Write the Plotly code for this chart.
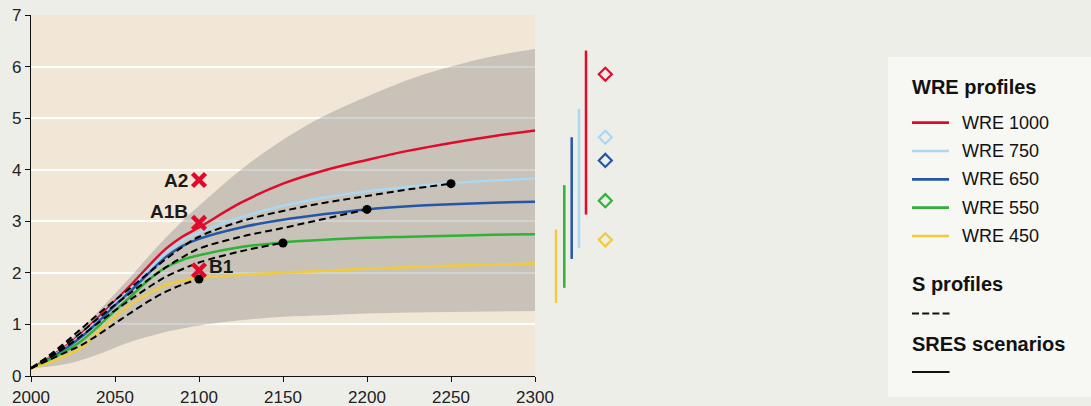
import plotly.graph_objects as go

W, H = 1091, 406

# ---------------- data ----------------
years = [2000, 2010, 2020, 2030, 2040, 2050, 2060, 2070, 2080, 2090, 2100,
         2125, 2150, 2175, 2200, 2225, 2250, 2275, 2300]

wre_names = ["WRE 1000", "WRE 750", "WRE 650", "WRE 550", "WRE 450"]
wre_colors = ["#e3092b", "#acd7f2", "#2458a6", "#2fb236", "#f0cc3c"]
wre_1000 = [0.15, 0.34, 0.56, 0.82, 1.13, 1.45, 1.78, 2.13, 2.46, 2.70, 2.88,
            3.36, 3.73, 3.99, 4.19, 4.37, 4.52, 4.65, 4.76]
wre_750 = [0.15, 0.33, 0.54, 0.79, 1.09, 1.41, 1.72, 2.06, 2.38, 2.62, 2.78,
           3.08, 3.30, 3.46, 3.58, 3.67, 3.74, 3.79, 3.83]
wre_650 = [0.15, 0.32, 0.52, 0.76, 1.05, 1.37, 1.67, 1.99, 2.30, 2.52, 2.66,
           2.88, 3.03, 3.14, 3.23, 3.29, 3.33, 3.36, 3.38]
wre_550 = [0.15, 0.30, 0.47, 0.68, 0.96, 1.27, 1.56, 1.86, 2.10, 2.25, 2.34,
           2.50, 2.59, 2.64, 2.68, 2.70, 2.72, 2.74, 2.75]
wre_450 = [0.15, 0.25, 0.38, 0.55, 0.85, 1.15, 1.40, 1.60, 1.76, 1.85, 1.90,
           1.96, 2.00, 2.04, 2.08, 2.11, 2.14, 2.16, 2.18]
wre_values = [wre_1000, wre_750, wre_650, wre_550, wre_450]

# S profiles (dashed), each ending where it joins its WRE curve
s750_years = [2000, 2010, 2020, 2030, 2040, 2050, 2060, 2070, 2080, 2090, 2100,
              2125, 2150, 2175, 2200, 2225, 2250]
s750 = [0.15, 0.38, 0.64, 0.92, 1.20, 1.47, 1.73, 2.00, 2.26, 2.50, 2.70,
        3.00, 3.20, 3.36, 3.49, 3.62, 3.73]
s650_years = [2000, 2010, 2020, 2030, 2040, 2050, 2060, 2070, 2080, 2090, 2100,
              2125, 2150, 2175, 2200]
s650 = [0.15, 0.36, 0.60, 0.85, 1.12, 1.38, 1.63, 1.87, 2.10, 2.30, 2.47,
        2.70, 2.87, 3.05, 3.23]
s550_years = [2000, 2010, 2020, 2030, 2040, 2050, 2060, 2070, 2080, 2090, 2100,
              2125, 2150]
s550 = [0.15, 0.33, 0.55, 0.78, 1.03, 1.27, 1.50, 1.72, 1.92, 2.07, 2.20,
        2.42, 2.58]
s450_years = [2000, 2010, 2020, 2030, 2040, 2050, 2060, 2070, 2080, 2090, 2100]
s450 = [0.15, 0.30, 0.45, 0.60, 0.80, 1.02, 1.24, 1.45, 1.63, 1.77, 1.88]
s_years = [s750_years, s650_years, s550_years, s450_years]
s_values = [s750, s650, s550, s450]

# junction dots
dot_years = [2100, 2150, 2200, 2250]
dot_values = [1.88, 2.58, 3.23, 3.73]

# grey uncertainty band
band_years = [2000, 2015, 2025, 2040, 2050, 2060, 2075, 2090, 2100, 2125, 2150,
              2175, 2200, 2225, 2250, 2275, 2300]
band_upper = [0.15, 0.45, 0.75, 1.25, 1.60, 1.95, 2.50, 3.00, 3.30, 4.00, 4.58,
              5.05, 5.42, 5.75, 6.00, 6.20, 6.34]
band_lower = [0.15, 0.20, 0.26, 0.42, 0.55, 0.67, 0.81, 0.92, 0.98, 1.08, 1.15,
              1.18, 1.21, 1.23, 1.24, 1.25, 1.26]

# SRES markers in 2100
sres_names = ["A2", "A1B", "B1"]
sres_values = [3.80, 2.97, 2.05]

# ranges (bars) and best estimates (diamonds) at equilibrium
range_low = [3.13, 2.48, 2.27, 1.71, 1.42]
range_high = [6.31, 5.18, 4.63, 3.70, 2.84]
best_est = [5.85, 4.63, 4.18, 3.40, 2.64]

xticks = [2000, 2050, 2100, 2150, 2200, 2250, 2300]
yticks = [0, 1, 2, 3, 4, 5, 6, 7]

# ---------------- layout helpers ----------------
PAGE_BG = "#eeeee9"
PLOT_BG = "#f2e7d7"
FONT = "Liberation Sans, Arial, sans-serif"


def px(x):
    return x / W


def py(y):
    return 1 - y / H


X0, X1 = 31, 535      # plot area in pixels
Y0, Y1 = 15, 376

fig = go.Figure()

# band
fig.add_trace(go.Scatter(x=band_years, y=band_lower, mode="lines",
                         line=dict(width=0, shape="spline"), hoverinfo="skip",
                         showlegend=False))
fig.add_trace(go.Scatter(x=band_years, y=band_upper, mode="lines",
                         line=dict(width=0, shape="spline"), fill="tonexty",
                         fillcolor="rgba(128,131,130,0.36)", hoverinfo="skip",
                         showlegend=False))

for name, col, vals in zip(wre_names, wre_colors, wre_values):
    fig.add_trace(go.Scatter(x=years, y=vals, mode="lines", name=name,
                             line=dict(color=col, width=2.5, shape="spline",
                                       smoothing=1.0),
                             showlegend=False))

for yrs, vals in zip(s_years, s_values):
    fig.add_trace(go.Scatter(x=yrs, y=vals, mode="lines",
                             line=dict(color="black", width=2, dash="7px,4px",
                                       shape="spline", smoothing=1.0),
                             showlegend=False))

fig.add_trace(go.Scatter(x=dot_years, y=dot_values, mode="markers",
                         marker=dict(color="black", size=9), showlegend=False))

fig.add_trace(go.Scatter(x=[2100] * len(sres_values), y=sres_values, mode="markers",
                         marker=dict(symbol="x-thin", size=13, color="#e3092b",
                                     line=dict(color="#e3092b", width=4.5)),
                         showlegend=False))

# bars + diamonds in side axis
bar_pos = [51, 44, 36.7, 29.3, 21]
for i, col in enumerate(wre_colors):
    fig.add_trace(go.Scatter(x=[bar_pos[i], bar_pos[i]], y=[range_low[i], range_high[i]],
                             mode="lines", line=dict(color=col, width=2.5),
                             xaxis="x2", yaxis="y2", showlegend=False))
fig.add_trace(go.Scatter(x=[70.3] * len(best_est), y=best_est, mode="markers",
                         marker=dict(symbol="diamond-open", size=10, color=wre_colors,
                                     line=dict(width=2.2, color=wre_colors)),
                         xaxis="x2", yaxis="y2", showlegend=False))

shapes = [
    dict(type="rect", xref="x domain", yref="y domain", x0=0, x1=1, y0=0, y1=1,
         fillcolor=PLOT_BG, line=dict(width=0), layer="below"),
    # legend box
    dict(type="rect", xref="paper", yref="paper", x0=px(888), x1=px(1095),
         y0=py(397), y1=py(57), fillcolor="#f7f7f3", line=dict(width=0), layer="below"),
]
annotations = []

annotations.append(dict(xref="paper", yref="paper", x=px(910), y=py(87),
                        text="<b>WRE profiles</b>", showarrow=False, xanchor="left",
                        yanchor="middle", font=dict(size=20, color="#111", family=FONT)))
leg_y = [122.7, 151, 179.3, 207.7, 236]
for name, col, yy in zip(wre_names, wre_colors, leg_y):
    shapes.append(dict(type="line", xref="paper", yref="paper", x0=px(912), x1=px(949),
                       y0=py(yy), y1=py(yy), line=dict(color=col, width=2.7)))
    annotations.append(dict(xref="paper", yref="paper", x=px(960), y=py(yy), text=name,
                            showarrow=False, xanchor="left", yanchor="middle",
                            font=dict(size=18, color="#111", family=FONT)))
annotations.append(dict(xref="paper", yref="paper", x=px(910), y=py(283.5),
                        text="<b>S profiles</b>", showarrow=False, xanchor="left",
                        yanchor="middle", font=dict(size=20, color="#111", family=FONT)))
shapes.append(dict(type="line", xref="paper", yref="paper", x0=px(912), x1=px(949.5),
                   y0=py(313.5), y1=py(313.5),
                   line=dict(color="#111", width=2, dash="7px,3.2px")))
annotations.append(dict(xref="paper", yref="paper", x=px(910), y=py(344),
                        text="<b>SRES scenarios</b>", showarrow=False, xanchor="left",
                        yanchor="middle", font=dict(size=20, color="#111", family=FONT)))
shapes.append(dict(type="line", xref="paper", yref="paper", x0=px(912), x1=px(949.5),
                   y0=py(372), y1=py(372), line=dict(color="#111", width=2)))

# SRES labels
label_cfg = [dict(xanchor="right", xshift=-9, yshift=0),
             dict(xanchor="right", xshift=-9, yshift=11),
             dict(xanchor="left", xshift=8, yshift=4)]
for name, val, cfg in zip(sres_names, sres_values, label_cfg):
    annotations.append(dict(x=2100, y=val, xref="x", yref="y", text=f"<b>{name}</b>",
                            showarrow=False, yanchor="middle",
                            font=dict(size=19, color="#1a1a1a", family=FONT), **cfg))

fig.update_layout(
    width=W, height=H,
    margin=dict(l=0, r=0, t=0, b=0, autoexpand=False),
    paper_bgcolor=PAGE_BG,
    plot_bgcolor="rgba(0,0,0,0)",
    font=dict(family=FONT, color="#222"),
    showlegend=False,
    shapes=shapes,
    annotations=annotations,
    xaxis=dict(domain=[X0 / W, X1 / W], range=[2000, 2300], tickvals=xticks,
               ticks="outside", ticklen=5, tickwidth=1.3, tickcolor="#111",
               showline=True, linecolor="#111", linewidth=1.3, showgrid=False,
               zeroline=False, tickfont=dict(size=17, color="#222"), anchor="y",
               automargin=False, fixedrange=True),
    yaxis=dict(domain=[1 - Y1 / H, 1 - Y0 / H], range=[0, 7], tickvals=yticks,
               ticks="outside", ticklen=5, tickwidth=1.3, tickcolor="#111",
               showline=True, linecolor="#111", linewidth=1.3, showgrid=True,
               gridcolor="white", gridwidth=2, zeroline=False,
               tickfont=dict(size=17, color="#222"), anchor="x",
               automargin=False, fixedrange=True),
    xaxis2=dict(domain=[X1 / W, (X1 + 115) / W], range=[0, 115],
                visible=False, anchor="y2", automargin=False, fixedrange=True),
    yaxis2=dict(domain=[1 - Y1 / H, 1 - Y0 / H], range=[0, 7], visible=False,
                anchor="x2", showgrid=False, automargin=False, fixedrange=True),
)

fig.write_html("out.html", config={"displayModeBar": False},
               post_script="document.body.style.margin='0';document.body.style.overflow='hidden';")
